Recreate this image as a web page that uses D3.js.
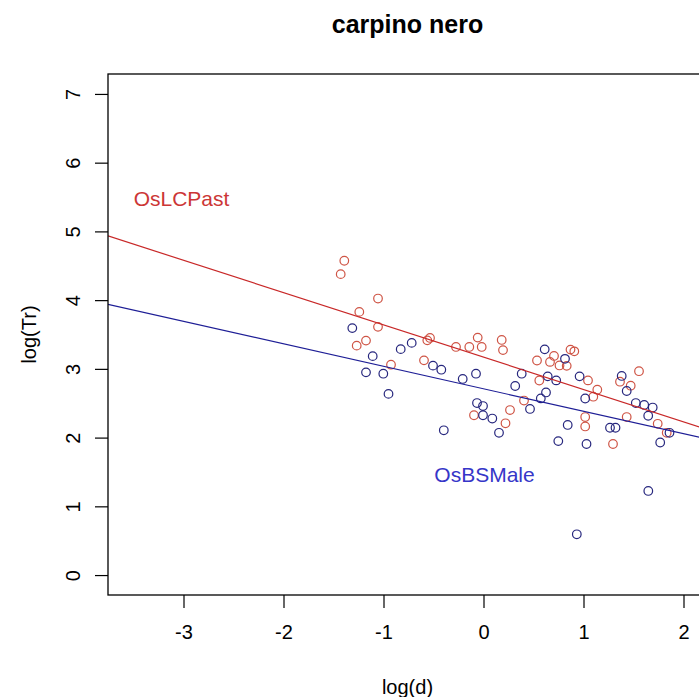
<!DOCTYPE html>
<html>
<head>
<meta charset="utf-8">
<script src="https://cdn.jsdelivr.net/npm/d3@7"></script>
<style>
  html, body { margin: 0; padding: 0; background: #ffffff; }
  svg { display: block; font-family: "Liberation Sans", Arial, Helvetica, sans-serif; }
</style>
</head>
<body>
<svg id="chart" width="699" height="697"></svg>
<script>
// log(d) / log(Tr) observations for the two groups
const pastX = [-1.392, -1.428, -1.055, -1.242, -1.055, -1.175, -1.268, -0.535, -0.562, -0.275,
               -0.142, -0.058, -0.018, 0.182, 0.195, -0.595, -0.925, -0.095, 0.220, 0.265,
               0.405, 0.535, 0.705, 0.665, 0.760, 0.832, 0.870, 0.908, 0.558, 1.045,
               1.138, 1.098, 1.365, 1.472, 1.555, 1.017, 1.017, 1.432, 1.295, 1.742, 1.832];
const pastY = [4.573, 4.378, 4.023, 3.829, 3.611, 3.411, 3.338, 3.450, 3.415, 3.319,
               3.319, 3.455, 3.319, 3.421, 3.273, 3.124, 3.061, 2.325, 2.208, 2.401,
               2.539, 3.122, 3.188, 3.101, 3.050, 3.044, 3.280, 3.255, 2.831, 2.832,
               2.697, 2.595, 2.813, 2.755, 2.966, 2.299, 2.162, 2.299, 1.907, 2.201, 2.070];

const maleX = [-1.312, -1.108, -0.828, -0.718, -1.175, -1.002, -0.950, -0.505, -0.422, -0.208,
               -0.075, -0.065, -0.005, -0.005, 0.088, 0.155, -0.397, 0.612, 0.815, 0.382,
               0.642, 0.727, 0.317, 0.625, 0.573, 0.465, 0.961, 1.017, 0.842, 0.748,
               1.030, 1.382, 1.432, 1.523, 1.607, 1.692, 1.647, 1.265, 1.320, 1.767,
               1.860, 1.648, 0.933];
const maleY = [3.593, 3.185, 3.287, 3.378, 2.949, 2.930, 2.636, 3.047, 2.988, 2.853,
               2.930, 2.503, 2.459, 2.325, 2.277, 2.070, 2.106, 3.284, 3.146, 2.930,
               2.891, 2.832, 2.751, 2.657, 2.570, 2.417, 2.891, 2.569, 2.184, 1.949,
               1.907, 2.897, 2.678, 2.503, 2.475, 2.437, 2.318, 2.143, 2.143, 1.929,
               2.070, 1.224, 0.593];

// fitted lines: [intercept, slope]
const pastFit = [3.17, -0.47];
const maleFit = [2.71, -0.327];

const xTicks = [-3, -2, -1, 0, 1, 2];
const yTicks = [0, 1, 2, 3, 4, 5, 6, 7];
const xDomain = [-3.755, 2.235];
const yDomain = [-0.29, 7.29];

const chartTitle = "carpino nero";
const xLabel = "log(d)";
const yLabel = "log(Tr)";
const pastLabel = { text: "OsLCPast", x: -3.02, y: 5.48 };
const maleLabel = { text: "OsBSMale", x: 0.01, y: 1.46 };

// ---- layout ----
const box = { left: 108, right: 707, top: 74, bottom: 595 };
const svg = d3.select("#chart");

const x = d3.scaleLinear().domain(xDomain).range([box.left, box.right]);
const y = d3.scaleLinear().domain(yDomain).range([box.bottom, box.top]);

const colPastPt = "#cf5546", colPastLine = "#c82828", colPastText = "#cc3636";
const colMalePt = "#27277e", colMaleLine = "#1e1e96", colMaleText = "#3636c8";

svg.append("defs").append("clipPath").attr("id", "plotClip")
  .append("rect")
  .attr("x", box.left).attr("y", box.top)
  .attr("width", box.right - box.left).attr("height", box.bottom - box.top);

const plot = svg.append("g").attr("clip-path", "url(#plotClip)");

// points
function drawPoints(xs, ys, col) {
  plot.append("g").selectAll("circle")
    .data(xs.map((v, i) => [v, ys[i]]))
    .join("circle")
    .attr("cx", d => x(d[0]))
    .attr("cy", d => y(d[1]))
    .attr("r", 4.3)
    .attr("fill", "none")
    .attr("stroke", col)
    .attr("stroke-width", 1.2);
}
drawPoints(pastX, pastY, colPastPt);
drawPoints(maleX, maleY, colMalePt);

// regression lines across the full x range
function drawFit(fit, col) {
  const ends = xDomain.map(v => [v, fit[0] + fit[1] * v]);
  plot.append("line")
    .attr("x1", x(ends[0][0])).attr("y1", y(ends[0][1]))
    .attr("x2", x(ends[1][0])).attr("y2", y(ends[1][1]))
    .attr("stroke", col)
    .attr("stroke-width", 1.2);
}
drawFit(pastFit, colPastLine);
drawFit(maleFit, colMaleLine);

// group labels
svg.append("text")
  .attr("x", x(pastLabel.x)).attr("y", y(pastLabel.y))
  .attr("dy", "0.35em")
  .attr("text-anchor", "middle")
  .attr("font-size", 21)
  .attr("fill", colPastText)
  .text(pastLabel.text);
svg.append("text")
  .attr("x", x(maleLabel.x)).attr("y", y(maleLabel.y))
  .attr("dy", "0.35em")
  .attr("text-anchor", "middle")
  .attr("font-size", 21)
  .attr("fill", colMaleText)
  .text(maleLabel.text);

// frame
svg.append("rect")
  .attr("x", box.left).attr("y", box.top)
  .attr("width", box.right - box.left).attr("height", box.bottom - box.top)
  .attr("fill", "none")
  .attr("stroke", "#000")
  .attr("stroke-width", 1.3);

// x axis
const gx = svg.append("g")
  .attr("transform", `translate(0,${box.bottom})`)
  .call(d3.axisBottom(x).tickValues(xTicks).tickSize(13).tickSizeOuter(0)
        .tickFormat(d => String(d)));
gx.select(".domain").remove();
gx.selectAll(".tick line").attr("stroke", "#000").attr("stroke-width", 1.2);
gx.selectAll(".tick text")
  .attr("font-size", 20)
  .attr("font-family", "Liberation Sans, Arial, sans-serif")
  .attr("fill", "#000")
  .attr("y", 44).attr("dy", 0);

// y axis, labels parallel to the axis
const gy = svg.append("g")
  .attr("transform", `translate(${box.left},0)`)
  .call(d3.axisLeft(y).tickValues(yTicks).tickSize(13).tickSizeOuter(0)
        .tickFormat(d => String(d)));
gy.select(".domain").remove();
gy.selectAll(".tick line").attr("stroke", "#000").attr("stroke-width", 1.2);
gy.selectAll(".tick text")
  .attr("font-size", 20)
  .attr("font-family", "Liberation Sans, Arial, sans-serif")
  .attr("fill", "#000")
  .attr("x", null).attr("dy", null)
  .attr("text-anchor", "middle")
  .attr("transform", "translate(-28,0) rotate(-90)");

// titles
svg.append("text")
  .attr("x", (box.left + box.right) / 2).attr("y", 33)
  .attr("text-anchor", "middle")
  .attr("font-size", 25)
  .attr("font-weight", "bold")
  .attr("fill", "#000")
  .text(chartTitle);
svg.append("text")
  .attr("x", (box.left + box.right) / 2).attr("y", 694)
  .attr("text-anchor", "middle")
  .attr("font-size", 20)
  .attr("fill", "#000")
  .text(xLabel);
svg.append("text")
  .attr("transform", `translate(36,${(box.top + box.bottom) / 2}) rotate(-90)`)
  .attr("text-anchor", "middle")
  .attr("font-size", 20)
  .attr("fill", "#000")
  .text(yLabel);
</script>
</body>
</html>
